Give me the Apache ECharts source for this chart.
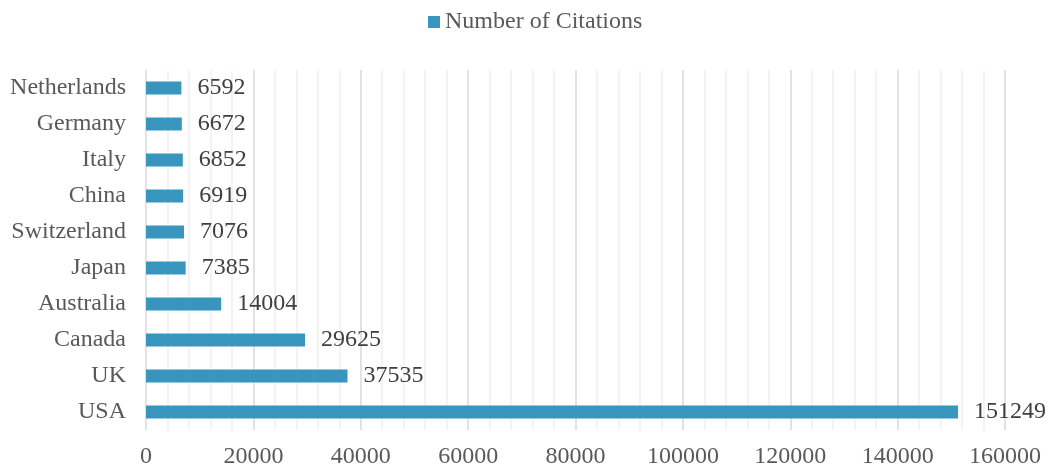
<!DOCTYPE html>
<html>
<head>
<meta charset="utf-8">
<script src="https://cdn.jsdelivr.net/npm/echarts@6/dist/echarts.min.js"></script>
<style>
  html, body { margin: 0; padding: 0; background: #fff; }
  #chart { width: 1048px; height: 469px; }
</style>
</head>
<body>
<div id="chart"></div>
<script>
const countries = ["USA", "UK", "Canada", "Australia", "Japan", "Switzerland", "China", "Italy", "Germany", "Netherlands"]
const citations = [151249, 37535, 29625, 14004, 7385, 7076, 6919, 6852, 6672, 6592]
const seriesName = "Number of Citations"

const font = "'Liberation Serif', 'Times New Roman', serif"
const barColor = "#3795be"

const chart = echarts.init(document.getElementById("chart"), null, { renderer: "canvas" })

chart.setOption({
  animation: false,
  textStyle: { fontFamily: font },
  legend: {
    data: [seriesName],
    top: 5,
    left: 423,
    icon: "rect",
    itemWidth: 12,
    itemHeight: 12,
    itemGap: 4,
    textStyle: { fontFamily: font, fontSize: 24, color: "#595959" }
  },
  grid: {
    left: 146,
    right: 43,
    top: 70,
    bottom: 39,
    containLabel: false
  },
  xAxis: {
    type: "value",
    min: 0,
    max: 160000,
    interval: 20000,
    axisLine: { show: false },
    axisTick: { show: false },
    axisLabel: {
      fontFamily: font,
      fontSize: 24,
      color: "#595959",
      margin: 15,
      formatter: (v) => String(v)
    },
    splitLine: { show: true, lineStyle: { color: "#d9d9d9", width: 1.5 } },
    minorTick: { show: false, splitNumber: 5 },
    minorSplitLine: { show: true, lineStyle: { color: "#efefef", width: 1.5 } }
  },
  yAxis: {
    type: "category",
    data: countries,
    axisLine: { show: false },
    axisTick: { show: false },
    axisLabel: {
      fontFamily: font,
      fontSize: 24,
      color: "#595959",
      margin: 20
    }
  },
  series: [
    {
      name: seriesName,
      type: "bar",
      data: citations,
      barWidth: 13,
      itemStyle: { color: barColor },
      label: {
        show: true,
        position: "right",
        distance: 16,
        fontFamily: font,
        fontSize: 24,
        color: "#404040"
      }
    }
  ]
})
</script>
</body>
</html>
